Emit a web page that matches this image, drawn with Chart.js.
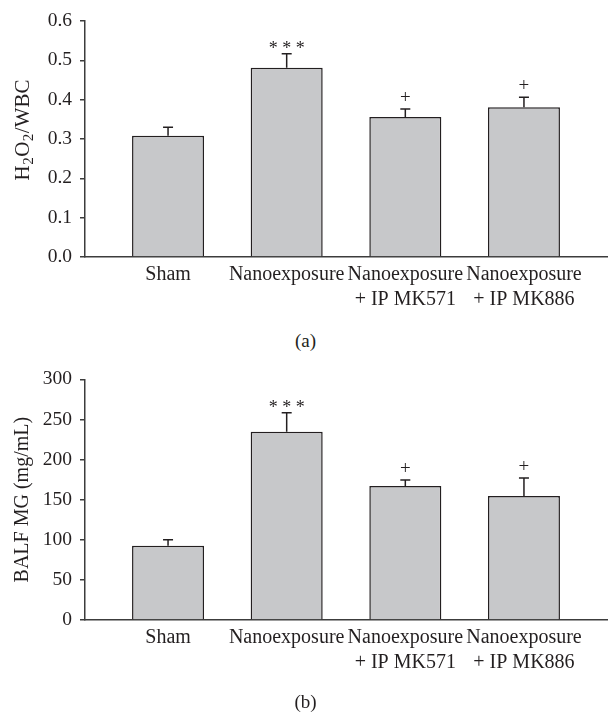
<!DOCTYPE html>
<html>
<head>
  <title>H2O2/WBC and BALF MG</title>
  <script src="https://cdn.jsdelivr.net/npm/chart.js"></script>
  <style>
    body {
      margin: 0;
      background: #fff;
      font-family: "Liberation Serif", serif;
    }
    .wrap {
      position: absolute;
      left: 0;
      width: 611px;
    }
    .caption {
      position: absolute;
      left: 0;
      width: 611px;
      text-align: center;
      font-size: 19px;
      color: #231f20;
    }
  </style>
</head>
<body>
  <div class="wrap" style="top:0;height:330px"><canvas id="chartA"></canvas></div>
  <div class="caption" style="top:330px">(a)</div>
  <div class="wrap" style="top:355px;height:340px"><canvas id="chartB"></canvas></div>
  <div class="caption" style="top:691px">(b)</div>

  <script>
    const categories = [
      ['Sham'],
      ['Nanoexposure'],
      ['Nanoexposure', '+ IP MK571'],
      ['Nanoexposure', '+ IP MK886']
    ];
    const marks = ['', '* * *', '+', '+'];

    // (a) H2O2 / WBC
    const h2o2Means = [0.308, 0.481, 0.356, 0.381];
    const h2o2Errors = [0.022, 0.036, 0.020, 0.025];
    const h2o2Ticks = [0, 0.6, 0.1];   // min, max, step
    const h2o2Title = [['H', false], ['2', true], ['O', false], ['2', true], ['/WBC', false]];

    // (b) BALF MG
    const balfMeans = [92.6, 234.7, 167, 154.6];
    const balfErrors = [7.5, 23.7, 7.5, 22.4];
    const balfTicks = [0, 300, 50];
    const balfTitle = [['BALF MG (mg/mL)', false]];

    const ink = '#231f20';
    const axisColor = '#3c3c3c';
    const font = 'Liberation Serif';

    // upward error bars + significance marks
    const errorBars = {
      id: 'errorBars',
      afterDatasetsDraw(chart, args, opts) {
        const ctx = chart.ctx;
        const xs = chart.scales.x, ys = chart.scales.y;
        ctx.save();
        ctx.strokeStyle = ink;
        ctx.lineWidth = 1.5;
        opts.means.forEach((m, i) => {
          const x = xs.getPixelForValue(i + 1);
          const yb = ys.getPixelForValue(m);
          const yt = ys.getPixelForValue(m + opts.errors[i]);
          ctx.beginPath();
          ctx.moveTo(x, yb);
          ctx.lineTo(x, yt);
          ctx.moveTo(x - 5, yt);
          ctx.lineTo(x + 5, yt);
          ctx.stroke();
          const mk = opts.marks[i];
          if (mk) {
            ctx.fillStyle = ink;
            ctx.textAlign = 'center';
            ctx.textBaseline = 'alphabetic';
            if (mk === '+') {
              ctx.font = '19px "' + font + '"';
              ctx.fillText(mk, x, yt - 6);
            } else {
              ctx.font = '18px "' + font + '"';
              ctx.fillText(mk, x, yt);
            }
          }
        });
        ctx.restore();
      }
    };

    // rotated y title with subscripts
    const yTitle = {
      id: 'yTitle',
      afterDraw(chart, args, opts) {
        const ctx = chart.ctx;
        const area = chart.chartArea;
        const cy = (area.top + area.bottom) / 2 + opts.shift;
        ctx.save();
        ctx.fillStyle = ink;
        ctx.textBaseline = 'middle';
        ctx.textAlign = 'left';
        const big = opts.size + 'px "' + font + '"', small = Math.round(opts.size * 0.72) + 'px "' + font + '"';
        let total = 0;
        opts.parts.forEach(p => {
          ctx.font = p[1] ? small : big;
          total += ctx.measureText(p[0]).width + (p[1] ? 1 : 0);
        });
        ctx.translate(opts.x, cy);
        ctx.rotate(-Math.PI / 2);
        let pos = -total / 2;
        opts.parts.forEach(p => {
          ctx.font = p[1] ? small : big;
          ctx.fillText(p[0], pos + (p[1] ? 0.5 : 0), p[1] ? 6 : 0);
          pos += ctx.measureText(p[0]).width + (p[1] ? 1 : 0);
        });
        ctx.restore();
      }
    };

    function makeChart(id, means, errors, ticks, title, padTop, xHeight, shift, titleSize) {
      return new Chart(document.getElementById(id), {
        type: 'bar',
        data: {
          datasets: [{
            data: means.map((v, i) => ({ x: i + 1, y: v })),
            backgroundColor: '#c7c8ca',
            borderColor: ink,
            borderWidth: 1.5,
            barPercentage: 0.607,
            categoryPercentage: 1
          }]
        },
        options: {
          responsive: true,
          maintainAspectRatio: false,
          animation: false,
          layout: { padding: { top: padTop, right: 4, left: 0, bottom: 0 } },
          plugins: {
            legend: { display: false },
            tooltip: { enabled: false },
            errorBars: { means: means, errors: errors, marks: marks },
            yTitle: { parts: title, x: 23, shift: shift, size: titleSize }
          },
          scales: {
            x: {
              type: 'linear',
              offset: false,
              min: 0.3,
              max: 4.7,
              afterBuildTicks: s => { s.ticks = categories.map((c, i) => ({ value: i + 1 })); },
              afterFit: s => { s.height = xHeight; },
              grid: { display: false, drawTicks: false },
              border: { display: true, color: axisColor, width: 1.5 },
              ticks: {
                callback: v => categories[v - 1],
                maxRotation: 0,
                autoSkip: false,
                padding: 5,
                color: ink,
                font: { family: font, size: 20, lineHeight: 1.25 }
              }
            },
            y: {
              min: ticks[0],
              max: ticks[1],
              afterFit: s => { s.width = 85; },
              grid: { drawOnChartArea: false, drawTicks: true, tickLength: 5, color: axisColor, lineWidth: 1.5 },
              border: { display: true, color: axisColor, width: 1.5 },
              ticks: {
                stepSize: ticks[2],
                padding: 8,
                color: ink,
                font: { family: font, size: 19.5 },
                callback: v => ticks[2] < 1 ? v.toFixed(1) : v
              }
            }
          }
        },
        plugins: [errorBars, yTitle]
      });
    }

    makeChart('chartA', h2o2Means, h2o2Errors, h2o2Ticks, h2o2Title, 21, 73, -9, 21);
    makeChart('chartB', balfMeans, balfErrors, balfTicks, balfTitle, 24.3, 75, 0, 20);
  </script>
</body>
</html>
